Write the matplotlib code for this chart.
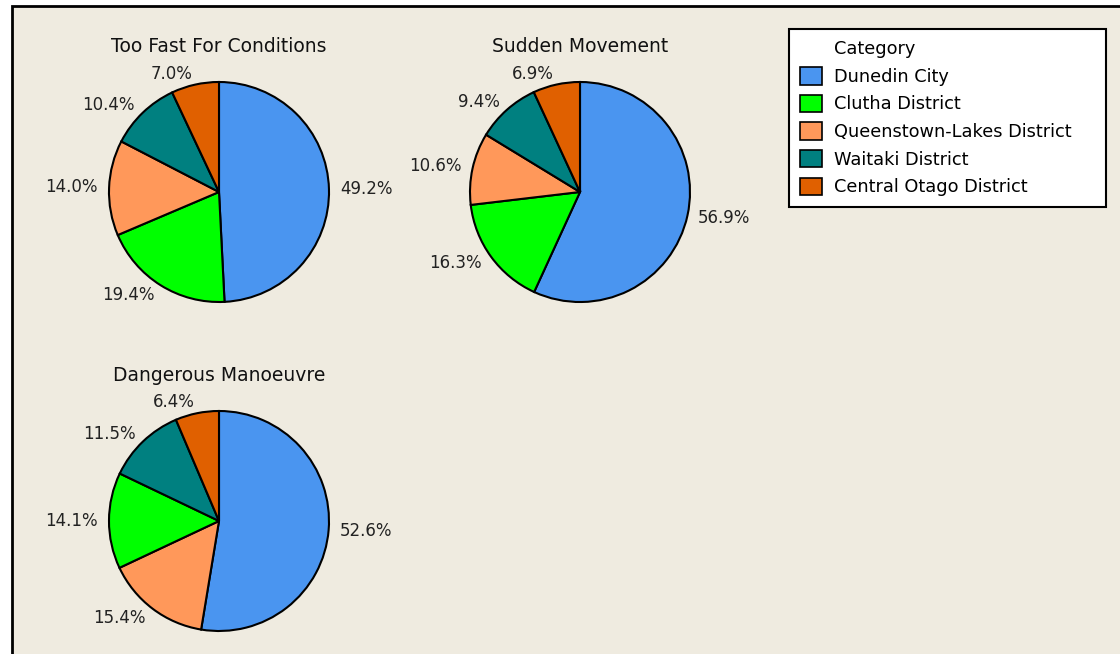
import matplotlib
matplotlib.use('Agg')
import matplotlib.pyplot as plt
from matplotlib.patches import Patch, Rectangle

categories = ['Dunedin City', 'Clutha District', 'Queenstown-Lakes District',
              'Waitaki District', 'Central Otago District']
colors = ['#4A95F0', '#00FF00', '#FF985A', '#008080', '#E06000']

titles = ['Too Fast For Conditions', 'Sudden Movement', 'Dangerous Manoeuvre']
too_fast = [49.2, 19.4, 14.0, 10.4, 7.0]
sudden = [56.9, 16.3, 10.6, 9.4, 6.9]
dangerous = [52.6, 14.1, 15.4, 11.5, 6.4]

bg = '#EFEBE0'
W, H = 1120, 654
plt.rcParams['font.family'] = ['DejaVu Sans']

fig = plt.figure(figsize=(W / 100, H / 100), dpi=100)
fig.patch.set_facecolor('white')
fig.add_artist(Rectangle((12 / W, -0.1), 1.2, (H - 6) / H + 0.1,
                         transform=fig.transFigure, facecolor=bg,
                         edgecolor='black', lw=2, zorder=-1))

# pie centres in pixels (from top-left), radius 110 px
centres = [(219, 192), (580, 192), (219, 521)]
R = 110
half = 1.5 * R

for title, vals, (cx, cy) in zip(titles, [too_fast, sudden, dangerous], centres):
    ax = fig.add_axes([(cx - half) / W, (H - cy - half) / H, 2 * half / W, 2 * half / H])
    order = sorted(range(len(vals)), key=lambda i: -vals[i])
    v = [vals[i] for i in order]
    ax.pie(v, colors=[colors[i] for i in order], labels=[f'{x:.1f}%' for x in v],
           startangle=90, counterclock=False, labeldistance=1.1,
           wedgeprops=dict(edgecolor='black', linewidth=1.5),
           textprops=dict(fontsize=12, color='#222222'))
    ax.set_xlim(-1.5, 1.5)
    ax.set_ylim(-1.5, 1.5)
    ax.set_aspect('equal')
    ax.axis('off')
    ax.text(0, 1.32, title, ha='center', va='center', fontsize=13.5, color='#111111')

handles = [Patch(facecolor='none', edgecolor='none')]
handles += [Patch(facecolor=c, edgecolor='black', lw=1.2) for c in colors]
leg = fig.legend(handles, ['Category'] + categories, loc='upper left',
                 bbox_to_anchor=(789 / W, (H - 205) / H, 317 / W, 176 / H),
                 mode='expand', borderaxespad=0,
                 fontsize=12.8, handlelength=1.24, handleheight=1.12,
                 handletextpad=0.67, labelspacing=0.5, borderpad=0.6,
                 fancybox=False, framealpha=1, facecolor='white',
                 edgecolor='black')
leg.get_frame().set_linewidth(1.5)

fig.savefig('out.png', dpi=100)
